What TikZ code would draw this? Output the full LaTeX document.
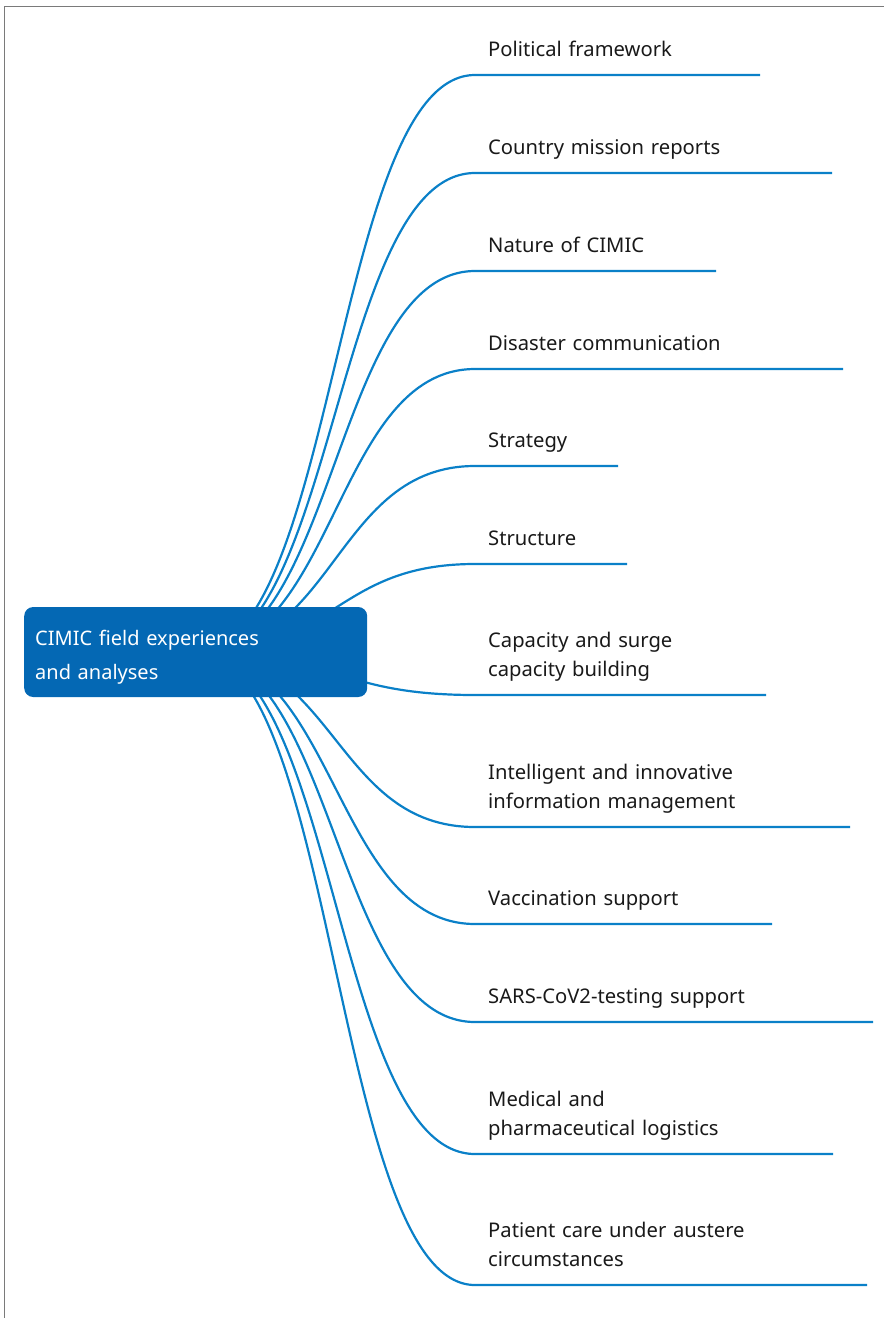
\documentclass[tikz,border=0pt]{standalone}
\usepackage{fontspec}
\setmainfont{Noto Sans}
\usetikzlibrary{backgrounds}
\definecolor{linkblue}{HTML}{0A80C8}
\definecolor{rootblue}{HTML}{0468B4}
\definecolor{framegrey}{HTML}{7A7A7A}
\begin{document}
\begin{tikzpicture}[x=1pt,y=-1pt,
  link/.style={draw=linkblue, line width=2.2pt},
  framestyle/.style={draw=framegrey, line width=1pt},
  lbl/.style={anchor=base west, inner sep=0pt, font=\fontsize{20.2}{28.7}\selectfont, text width=390pt, align=left, text=black!90},
  rootbox/.style={anchor=base west, fill=rootblue, rounded corners=9pt, text=white,
    font=\fontsize{20}{34}\selectfont, text width=321pt, align=left,
    inner xsep=11pt, inner ysep=0pt, text height=38pt, text depth=52pt}]
\useasboundingbox (0,0) rectangle (884,1318);
\draw[framestyle] (884,6.5) -- (4.5,6.5) -- (4.5,1318);

\node[rootbox] (root) at (24,645) {CIMIC field experiences\\and analyses};

\coordinate (s1) at (475,75);   \coordinate (e1) at (760,75);
\coordinate (s2) at (475,173);  \coordinate (e2) at (832,173);
\coordinate (s3) at (475,271);  \coordinate (e3) at (716,271);
\coordinate (s4) at (475,369);  \coordinate (e4) at (843,369);
\coordinate (s5) at (475,466);  \coordinate (e5) at (618,466);
\coordinate (s6) at (475,564);  \coordinate (e6) at (627,564);
\coordinate (s7) at (475,695);  \coordinate (e7) at (766,695);
\coordinate (s8) at (475,827);  \coordinate (e8) at (850,827);
\coordinate (s9) at (475,924);  \coordinate (e9) at (772,924);
\coordinate (s10) at (475,1022); \coordinate (e10) at (873,1022);
\coordinate (s11) at (475,1154); \coordinate (e11) at (833,1154);
\coordinate (s12) at (475,1285); \coordinate (e12) at (867,1285);

\node[lbl] (t1) at (488,56.5) {Political framework};
\node[lbl] (t2) at (488,154.5) {Country mission reports};
\node[lbl] (t3) at (488,252.5) {Nature of CIMIC};
\node[lbl] (t4) at (488,350.5) {Disaster communication};
\node[lbl] (t5) at (488,447.5) {Strategy};
\node[lbl] (t6) at (488,545.5) {Structure};
\node[lbl] (t7) at (488,647.8) {Capacity and surge\\capacity building};
\node[lbl] (t8) at (488,779.8) {Intelligent and innovative\\information management};
\node[lbl] (t9) at (488,905.5) {Vaccination support};
\node[lbl] (t10) at (488,1003.5) {SARS-CoV2-testing support};
\node[lbl] (t11) at (488,1106.8) {Medical and\\pharmaceutical logistics};
\node[lbl] (t12) at (488,1237.8) {Patient care under austere\\circumstances};

\begin{pgfonlayer}{background}
\foreach \i in {1,...,12}{
  \draw[link] (root.center) .. controls +(140,0) and +(-140,0) .. (s\i) -- (e\i);
}
\end{pgfonlayer}
\end{tikzpicture}
\end{document}
